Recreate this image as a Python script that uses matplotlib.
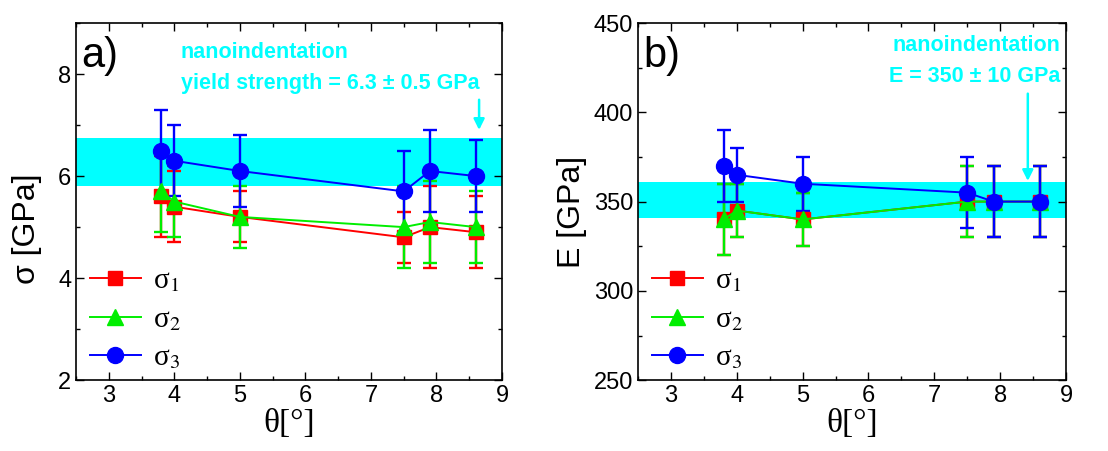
import matplotlib
matplotlib.use('Agg')
import matplotlib.pyplot as plt
from matplotlib.ticker import MultipleLocator

plt.rcParams['font.family'] = ['Liberation Sans', 'DejaVu Sans']
plt.rcParams['mathtext.fontset'] = 'stix'

# angles
theta = [3.8, 4.0, 5.0, 7.5, 7.9, 8.6]

# a) strength [GPa]
s1 = [5.6, 5.4, 5.2, 4.8, 5.0, 4.9]
s1_err = [0.8, 0.7, 0.5, 0.5, 0.8, 0.7]
s2 = [5.7, 5.5, 5.2, 5.0, 5.1, 5.0]
s2_err = [0.8, 0.7, 0.6, 0.8, 0.8, 0.7]
s3 = [6.5, 6.3, 6.1, 5.7, 6.1, 6.0]
s3_err = [0.8, 0.7, 0.7, 0.8, 0.8, 0.7]

# b) modulus [GPa]
e1 = [340, 345, 340, 350, 350, 350]
e1_err = [20, 15, 15, 20, 20, 20]
e2 = [340, 345, 340, 350, 350, 350]
e2_err = [20, 15, 15, 20, 20, 20]
e3 = [370, 365, 360, 355, 350, 350]
e3_err = [20, 15, 15, 20, 20, 20]

band_a = (5.8, 6.75)
band_b = (341, 361)

labels = ['σ$_1$', 'σ$_2$', 'σ$_3$']
colors = ['#ff0000', '#00ee00', '#0000ff']
markers = ['s', '^', 'o']
msizes = [9.5, 11, 11.5]

fig = plt.figure(figsize=(11.08, 4.51), dpi=100)
ax1 = fig.add_axes([0.0686, 0.157, 0.3845, 0.792])
ax2 = fig.add_axes([0.5758, 0.157, 0.3863, 0.792])


def draw(ax, ys, errs, band):
    ax.axhspan(band[0], band[1], color='#00ffff', lw=0, zorder=1)
    handles = []
    for y, e, c, m, ms in zip(ys, errs, colors, markers, msizes):
        cont = ax.errorbar(theta, y, yerr=e, color=c, ecolor=c, marker=m, ms=ms,
                           lw=1.4, elinewidth=1.7, capsize=5, capthick=1.7,
                           zorder=3)
        handles.append(cont[0])
    ax.set_xlim(2.5, 9)
    ax.xaxis.set_major_locator(MultipleLocator(1))
    ax.xaxis.set_minor_locator(MultipleLocator(0.5))
    ax.tick_params(which='both', direction='in', top=True, right=True,
                   labelsize=17)
    ax.tick_params(which='major', length=6, width=1)
    ax.tick_params(which='minor', length=3, width=1)
    ax.set_xlabel('θ[°]', fontsize=24, family='Liberation Serif', labelpad=1)
    for sp in ax.spines.values():
        sp.set_linewidth(1.2)
    ax.legend(handles, labels, loc='lower left', frameon=False,
              prop={'family': 'Liberation Serif', 'size': 21},
              labelspacing=0.42, handlelength=1.75, handletextpad=0.4,
              borderaxespad=0.0, bbox_to_anchor=(0.005, -0.008))


draw(ax1, [s1, s2, s3], [s1_err, s2_err, s3_err], band_a)
ax1.set_ylim(2, 9)
ax1.yaxis.set_major_locator(MultipleLocator(2))
ax1.yaxis.set_minor_locator(MultipleLocator(1))
ax1.set_ylabel('σ [GPa]', fontsize=23)
ax1.yaxis.set_label_coords(-0.08, 0.425)
ax1.text(0.012, 0.965, 'a)', transform=ax1.transAxes, fontsize=30,
         va='top', ha='left')
ax1.text(4.1, 8.42, 'nanoindentation', color='#00ffff', fontsize=15.5,
         fontweight='bold', va='center', ha='left')
ax1.text(4.1, 7.82, 'yield strength = 6.3 ± 0.5 GPa', color='#00ffff',
         fontsize=15.5, fontweight='bold', va='center', ha='left')
ax1.annotate('', xy=(8.65, 6.85), xytext=(8.65, 7.55),
             arrowprops=dict(arrowstyle='-|>', color='#00ffff', lw=1.8,
                             mutation_scale=16))

draw(ax2, [e1, e2, e3], [e1_err, e2_err, e3_err], band_b)
ax2.set_ylim(250, 450)
ax2.yaxis.set_major_locator(MultipleLocator(50))
ax2.yaxis.set_minor_locator(MultipleLocator(25))
ax2.set_ylabel('E [GPa]', fontsize=23)
ax2.yaxis.set_label_coords(-0.119, 0.47)
ax2.text(0.012, 0.965, 'b)', transform=ax2.transAxes, fontsize=30,
         va='top', ha='left')
ax2.text(0.986, 0.938, 'nanoindentation', color='#00ffff', fontsize=15.5,
         fontweight='bold', va='center', ha='right', transform=ax2.transAxes)
ax2.text(0.986, 0.849, 'E = 350 ± 10 GPa', color='#00ffff', fontsize=15.5,
         fontweight='bold', va='center', ha='right', transform=ax2.transAxes)
ax2.annotate('', xy=(8.42, 360), xytext=(8.42, 412),
             arrowprops=dict(arrowstyle='-|>', color='#00ffff', lw=1.8,
                             mutation_scale=16))

fig.savefig('out.png', dpi=100)
